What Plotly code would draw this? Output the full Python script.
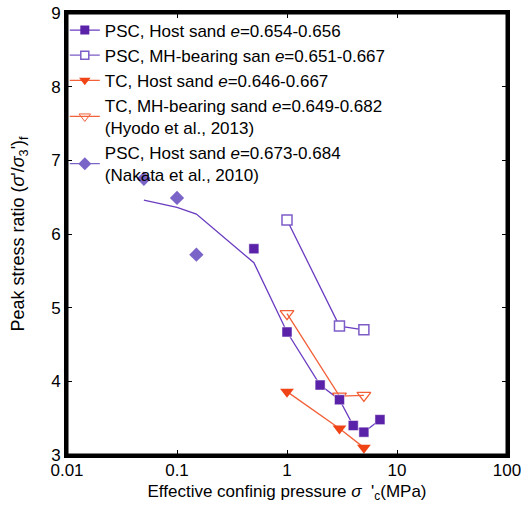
import plotly.graph_objects as go

# PSC, host sand (filled squares)
psc_host_x = [0.5, 1, 2, 3, 4, 5, 7]
psc_host_y = [5.80, 4.67, 3.95, 3.75, 3.40, 3.31, 3.48]
# trend line through host sand data
trend_x = [0.05, 0.1, 0.15, 0.5, 1, 2, 3, 4, 5, 7]
trend_y = [6.46, 6.36, 6.27, 5.61, 4.67, 3.95, 3.75, 3.40, 3.31, 3.48]
# PSC, MH-bearing sand (open squares)
psc_mh_x = [1, 3, 5]
psc_mh_y = [6.19, 4.75, 4.70]
# TC, host sand (filled down triangles)
tc_host_x = [1, 3, 5]
tc_host_y = [3.86, 3.36, 3.10]
# TC, MH-bearing sand (open down triangles)
tc_mh_x = [1, 3, 5]
tc_mh_y = [4.92, 3.80, 3.81]
# Nakata et al. (diamonds)
nak_x = [0.05, 0.1, 0.15]
nak_y = [6.75, 6.49, 5.72]

PURPLE = "#5a22a8"
PLINE = "#6a3cc0"
OPEN_P = "#7d5cc8"
RED = "#f04416"
RLINE = "#f26038"
DIAM = "#7b64c8"

fig = go.Figure()
fig.add_trace(go.Scatter(x=trend_x, y=trend_y, mode="lines", line=dict(color=PLINE, width=1.3), showlegend=False))
fig.add_trace(go.Scatter(x=psc_mh_x, y=psc_mh_y, mode="lines", line=dict(color=PLINE, width=1.3), showlegend=False))
fig.add_trace(go.Scatter(x=tc_host_x, y=tc_host_y, mode="lines", line=dict(color=RLINE, width=1.3), showlegend=False))
fig.add_trace(go.Scatter(x=tc_mh_x, y=tc_mh_y, mode="lines", line=dict(color=RLINE, width=1.3), showlegend=False))

fig.add_trace(go.Scatter(x=tc_mh_x, y=tc_mh_y, mode="markers",
                         marker=dict(symbol="triangle-down-open", size=12, color=RLINE, line=dict(width=1.3)),
                         showlegend=False))
fig.add_trace(go.Scatter(x=psc_mh_x, y=psc_mh_y, mode="markers",
                         marker=dict(symbol="square", size=10, color="white", line=dict(color=OPEN_P, width=1.5)),
                         showlegend=False))
fig.add_trace(go.Scatter(x=tc_host_x, y=tc_host_y, mode="markers",
                         marker=dict(symbol="triangle-down", size=12, color=RED),
                         showlegend=False))
fig.add_trace(go.Scatter(x=psc_host_x, y=psc_host_y, mode="markers",
                         marker=dict(symbol="square", size=10, color=PURPLE, line=dict(color="white", width=0.5)),
                         showlegend=False))
fig.add_trace(go.Scatter(x=nak_x, y=nak_y, mode="markers",
                         marker=dict(symbol="diamond", size=11, color=DIAM),
                         showlegend=False))

leg = [
    ("PSC, Host sand <i>e</i>=0.654-0.656", PLINE, dict(symbol="square", size=9, color=PURPLE)),
    ("PSC, MH-bearing san <i>e</i>=0.651-0.667", OPEN_P, dict(symbol="square", size=8, color="white", line=dict(color=OPEN_P, width=1.5))),
    ("TC, Host sand <i>e</i>=0.646-0.667", RLINE, dict(symbol="triangle-down", size=10, color=RED)),
    ("TC, MH-bearing sand <i>e</i>=0.649-0.682<br>(Hyodo et al., 2013)", RLINE, dict(symbol="triangle-down-open", size=10, color=RLINE)),
    ("PSC, Host sand <i>e</i>=0.673-0.684<br>(Nakata et al., 2010)", DIAM, dict(symbol="diamond", size=10, color=DIAM)),
]
for name, lc, mk in leg:
    fig.add_trace(go.Scatter(x=[None], y=[None], mode="lines+markers", name=name,
                             line=dict(color=lc, width=1.3), marker=mk))

axis_common = dict(showline=True, linecolor="black", linewidth=3, mirror="ticks",
                   ticks="inside", ticklen=5, tickcolor="black", tickwidth=1,
                   showgrid=False, zeroline=False, ticklabeloverflow="allow",
                   tickfont=dict(family="Liberation Sans, Arial", size=17, color="black"))

fig.update_layout(
    width=521, height=507,
    margin=dict(l=67, r=14, t=13, b=52, autoexpand=False),
    plot_bgcolor="white", paper_bgcolor="white",
    font=dict(family="Liberation Sans, Arial", size=17, color="black"),
    xaxis=dict(type="log", range=[-2, 2], tickvals=[0.01, 0.1, 1, 10, 100],
               ticktext=["0.01", "0.1", "1", "10", "100"], ticklabelstandoff=-2,
               title=dict(text="Effective confinig pressure <i>σ</i>  '<sub>c</sub>(MPa)", standoff=6,
                          font=dict(size=17)),
               **axis_common),
    yaxis=dict(range=[3, 9], tickvals=[3, 4, 5, 6, 7, 8, 9], ticklabelstandoff=0,
               title=dict(text="Peak stress ratio (<i>σ</i>'/<i>σ</i><sub>3</sub>')<sub>f</sub>", standoff=22,
                          font=dict(size=18)),
               **axis_common),
    legend=dict(x=-0.005, y=1.001, xanchor="left", yanchor="top", bgcolor="rgba(0,0,0,0)",
                font=dict(size=17), itemwidth=30, tracegroupgap=0),
    shapes=[dict(type="rect", xref="paper", yref="paper", x0=0, x1=1, y0=0, y1=1,
                 line=dict(color="black", width=3), fillcolor="rgba(0,0,0,0)", layer="above")],
)

fig.write_html("out.html", config={"displayModeBar": False},
               post_script="document.body.style.margin='0px';")
